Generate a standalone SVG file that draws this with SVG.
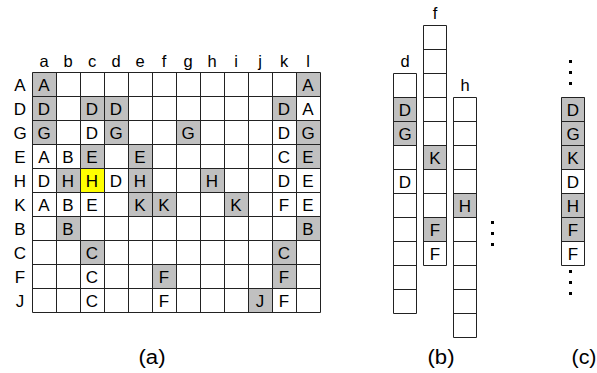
<svg xmlns="http://www.w3.org/2000/svg" width="597" height="373" viewBox="0 0 597 373">
<style>
text{font-family:"Liberation Sans",Arial,sans-serif;fill:#000;text-anchor:middle}
.c{font-size:17px}
.h{font-size:16.5px}
.p{font-size:20px}
.g{fill:#c0c0c0}
.y{fill:#ffff00}
.ln{stroke:#222;stroke-width:1;fill:none}
.dot{fill:#000}
</style>
<rect width="597" height="373" fill="#fff"/>
<g id="panel-a">
<g id="col-labels" class="h">
<text x="44" y="67">a</text><text x="68" y="67">b</text><text x="92" y="67">c</text><text x="116" y="67">d</text><text x="140" y="67">e</text><text x="164" y="67">f</text><text x="188" y="67">g</text><text x="212" y="67">h</text><text x="236" y="67">i</text><text x="260" y="67">j</text><text x="284" y="67">k</text><text x="308" y="67">l</text>
</g>
<g id="row-labels" class="c">
<text x="20" y="91">A</text><text x="20" y="115">D</text><text x="20" y="139">G</text><text x="20" y="163">E</text><text x="20" y="187">H</text><text x="20" y="211">K</text><text x="20" y="235">B</text><text x="20" y="259">C</text><text x="20" y="283">F</text><text x="20" y="307">J</text>
</g>
<g id="fills">
<rect class="g" x="32" y="72" width="24" height="24"/><rect class="g" x="296" y="72" width="24" height="24"/>
<rect class="g" x="32" y="96" width="24" height="24"/><rect class="g" x="80" y="96" width="24" height="24"/><rect class="g" x="104" y="96" width="24" height="24"/><rect class="g" x="272" y="96" width="24" height="24"/>
<rect class="g" x="32" y="120" width="24" height="24"/><rect class="g" x="104" y="120" width="24" height="24"/><rect class="g" x="176" y="120" width="24" height="24"/><rect class="g" x="296" y="120" width="24" height="24"/>
<rect class="g" x="80" y="144" width="24" height="24"/><rect class="g" x="128" y="144" width="24" height="24"/><rect class="g" x="296" y="144" width="24" height="24"/>
<rect class="g" x="56" y="168" width="24" height="24"/><rect class="y" x="80" y="168" width="24" height="24"/><rect class="g" x="128" y="168" width="24" height="24"/><rect class="g" x="200" y="168" width="24" height="24"/>
<rect class="g" x="128" y="192" width="24" height="24"/><rect class="g" x="152" y="192" width="24" height="24"/><rect class="g" x="224" y="192" width="24" height="24"/>
<rect class="g" x="56" y="216" width="24" height="24"/><rect class="g" x="296" y="216" width="24" height="24"/>
<rect class="g" x="80" y="240" width="24" height="24"/><rect class="g" x="272" y="240" width="24" height="24"/>
<rect class="g" x="152" y="264" width="24" height="24"/><rect class="g" x="272" y="264" width="24" height="24"/>
<rect class="g" x="248" y="288" width="24" height="24"/>
</g>
<g id="grid" class="ln">
<path d="M32.5 72.5V312.5M56.5 72.5V312.5M80.5 72.5V312.5M104.5 72.5V312.5M128.5 72.5V312.5M152.5 72.5V312.5M176.5 72.5V312.5M200.5 72.5V312.5M224.5 72.5V312.5M248.5 72.5V312.5M272.5 72.5V312.5M296.5 72.5V312.5M320.5 72.5V312.5"/>
<path d="M32.5 72.5H320.5M32.5 96.5H320.5M32.5 120.5H320.5M32.5 144.5H320.5M32.5 168.5H320.5M32.5 192.5H320.5M32.5 216.5H320.5M32.5 240.5H320.5M32.5 264.5H320.5M32.5 288.5H320.5M32.5 312.5H320.5"/>
</g>
<g id="cells" class="c">
<text x="44" y="91">A</text><text x="308" y="91">A</text>
<text x="44" y="115">D</text><text x="92" y="115">D</text><text x="116" y="115">D</text><text x="284" y="115">D</text><text x="308" y="115">A</text>
<text x="44" y="139">G</text><text x="92" y="139">D</text><text x="116" y="139">G</text><text x="188" y="139">G</text><text x="284" y="139">D</text><text x="308" y="139">G</text>
<text x="44" y="163">A</text><text x="68" y="163">B</text><text x="92" y="163">E</text><text x="140" y="163">E</text><text x="284" y="163">C</text><text x="308" y="163">E</text>
<text x="44" y="187">D</text><text x="68" y="187">H</text><text x="92" y="187">H</text><text x="116" y="187">D</text><text x="140" y="187">H</text><text x="212" y="187">H</text><text x="284" y="187">D</text><text x="308" y="187">E</text>
<text x="44" y="211">A</text><text x="68" y="211">B</text><text x="92" y="211">E</text><text x="140" y="211">K</text><text x="164" y="211">K</text><text x="236" y="211">K</text><text x="284" y="211">F</text><text x="308" y="211">E</text>
<text x="68" y="235">B</text><text x="308" y="235">B</text>
<text x="92" y="259">C</text><text x="284" y="259">C</text>
<text x="92" y="283">C</text><text x="164" y="283">F</text><text x="284" y="283">F</text>
<text x="92" y="307">C</text><text x="164" y="307">F</text><text x="260" y="307">J</text><text x="284" y="307">F</text>
</g>
<text class="p" x="152" y="364" textLength="27" lengthAdjust="spacingAndGlyphs">(a)</text>
</g>
<g id="panel-b">
<g id="col-d">
<text class="h" x="405" y="67">d</text>
<rect class="g" x="393" y="97" width="24" height="48"/>
<path class="ln" d="M393.5 73.5H416.5V313.5H393.5ZM393.5 97.5H416.5M393.5 121.5H416.5M393.5 145.5H416.5M393.5 169.5H416.5M393.5 193.5H416.5M393.5 217.5H416.5M393.5 241.5H416.5M393.5 265.5H416.5M393.5 289.5H416.5"/>
<text class="c" x="405" y="116">D</text><text class="c" x="405" y="140">G</text><text class="c" x="405" y="188">D</text>
</g>
<g id="col-f">
<text class="h" x="435" y="19">f</text>
<rect class="g" x="423" y="145" width="24" height="24"/><rect class="g" x="423" y="217" width="24" height="24"/>
<path class="ln" d="M423.5 25.5H446.5V265.5H423.5ZM423.5 49.5H446.5M423.5 73.5H446.5M423.5 97.5H446.5M423.5 121.5H446.5M423.5 145.5H446.5M423.5 169.5H446.5M423.5 193.5H446.5M423.5 217.5H446.5M423.5 241.5H446.5"/>
<text class="c" x="435" y="164">K</text><text class="c" x="435" y="236">F</text><text class="c" x="435" y="260">F</text>
</g>
<g id="col-h">
<text class="h" x="465" y="91">h</text>
<rect class="g" x="453" y="193" width="24" height="24"/>
<path class="ln" d="M453.5 97.5H476.5V337.5H453.5ZM453.5 121.5H476.5M453.5 145.5H476.5M453.5 169.5H476.5M453.5 193.5H476.5M453.5 217.5H476.5M453.5 241.5H476.5M453.5 265.5H476.5M453.5 289.5H476.5M453.5 313.5H476.5"/>
<text class="c" x="465" y="212">H</text>
</g>
<g id="dots-b" class="dot">
<rect x="491" y="221" width="3" height="3"/><rect x="491" y="232" width="3" height="3"/><rect x="491" y="243" width="3" height="3"/>
</g>
<text class="p" x="441" y="364" textLength="27" lengthAdjust="spacingAndGlyphs">(b)</text>
</g>
<g id="panel-c">
<g id="dots-c-top" class="dot">
<rect x="569" y="60" width="3" height="3"/><rect x="569" y="71" width="3" height="3"/><rect x="569" y="82" width="3" height="3"/>
</g>
<g id="col-c">
<rect class="g" x="561" y="97" width="24" height="72"/><rect class="g" x="561" y="193" width="24" height="48"/>
<path class="ln" d="M561.5 97.5H584.5V265.5H561.5ZM561.5 121.5H584.5M561.5 145.5H584.5M561.5 169.5H584.5M561.5 193.5H584.5M561.5 217.5H584.5M561.5 241.5H584.5"/>
<text class="c" x="573" y="116">D</text><text class="c" x="573" y="140">G</text><text class="c" x="573" y="164">K</text><text class="c" x="573" y="188">D</text><text class="c" x="573" y="212">H</text><text class="c" x="573" y="236">F</text><text class="c" x="573" y="260">F</text>
</g>
<g id="dots-c-bottom" class="dot">
<rect x="569" y="270" width="3" height="3"/><rect x="569" y="281" width="3" height="3"/><rect x="569" y="292" width="3" height="3"/>
</g>
<text class="p" x="584" y="364" textLength="25" lengthAdjust="spacingAndGlyphs">(c)</text>
</g>
</svg>
